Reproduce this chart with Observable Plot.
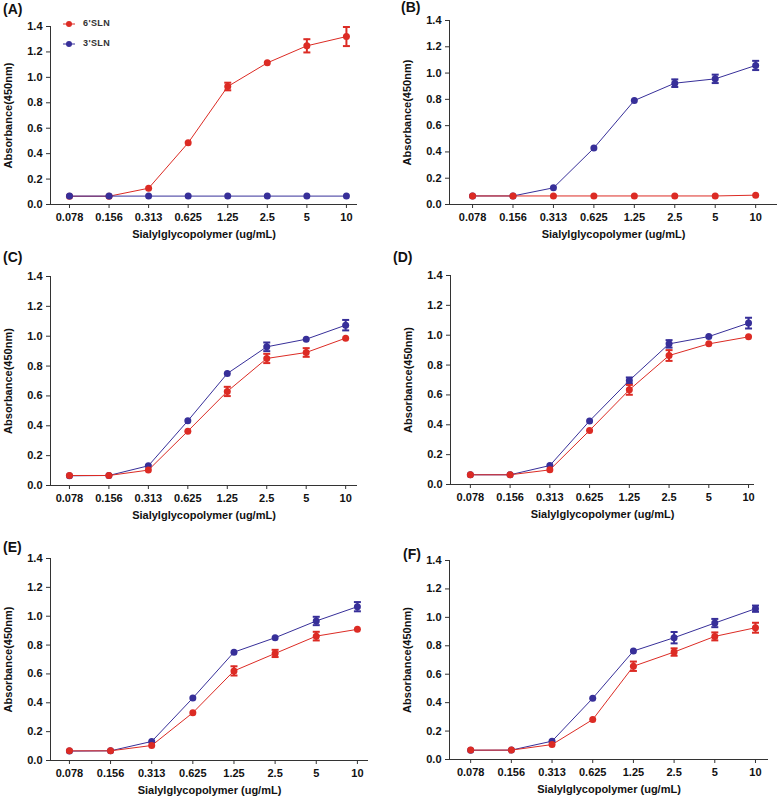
<!DOCTYPE html>
<html><head><meta charset="utf-8">
<script src="https://cdn.jsdelivr.net/npm/d3@7"></script>
<script src="https://cdn.jsdelivr.net/npm/@observablehq/plot@0.6"></script>
<style>
body{margin:0;background:#fff;}
#fig{position:relative;width:778px;height:797px;overflow:hidden;font-family:'Liberation Sans',Arial,sans-serif;}
.panel{position:absolute;}
.plab{position:absolute;font:bold 14px 'Liberation Sans',Arial,sans-serif;color:#111;line-height:1;}
.leg{position:absolute;font:bold 9px 'Liberation Sans',Arial,sans-serif;color:#333;letter-spacing:0.4px;}
</style></head><body><div id="fig"></div>
<script>
// ---- data ----
const concLabels = ["0.078","0.156","0.313","0.625","1.25","2.5","5","10"];
const seriesNames = ["6'SLN","3'SLN"];
const yTicks = [0,0.2,0.4,0.6,0.8,1.0,1.2,1.4];
const xTitle = "Sialylglycopolymer (ug/mL)";
const yTitle = "Absorbance(450nm)";
const panelLabels = ["(A)","(B)","(C)","(D)","(E)","(F)"];

const a6 = [0.065,0.065,0.128,0.485,0.928,1.114,1.248,1.321];
const a6err = [0,0,0,0,0.030,0,0.052,0.075];
const a3 = [0.066,0.066,0.066,0.066,0.066,0.066,0.066,0.066];
const a3err = [0,0,0,0,0,0,0,0];

const b6 = [0.065,0.065,0.065,0.065,0.065,0.065,0.065,0.071];
const b6err = [0,0,0,0,0,0,0,0];
const b3 = [0.065,0.065,0.127,0.429,0.791,0.923,0.956,1.058];
const b3err = [0,0,0,0,0,0.029,0.032,0.035];

const c6 = [0.067,0.067,0.103,0.364,0.630,0.851,0.891,0.987];
const c6err = [0,0,0,0,0.031,0.031,0.029,0];
const c3 = [0.065,0.067,0.132,0.433,0.750,0.929,0.980,1.074];
const c3err = [0,0,0,0,0,0.029,0,0.035];

const d6 = [0.065,0.065,0.098,0.362,0.634,0.864,0.942,0.989];
const d6err = [0,0,0,0,0.033,0.036,0,0];
const d3v = [0.065,0.065,0.127,0.426,0.697,0.942,0.991,1.081];
const d3err = [0,0,0,0,0.020,0.025,0,0.036];

const e6 = [0.067,0.067,0.104,0.331,0.621,0.742,0.862,0.909];
const e6err = [0,0,0,0,0.032,0.025,0.030,0];
const e3 = [0.065,0.067,0.132,0.433,0.751,0.851,0.967,1.066];
const e3err = [0,0,0,0,0,0,0.029,0.032];

const f6 = [0.066,0.066,0.105,0.281,0.656,0.756,0.866,0.927];
const f6err = [0,0,0,0,0.033,0.026,0.028,0.035];
const f3 = [0.065,0.066,0.129,0.431,0.763,0.857,0.960,1.061];
const f3err = [0,0,0,0,0,0.040,0.029,0.022];

// ---- styles / layout ----
const colors = {"6'SLN":"#dc2b24","3'SLN":"#372f99"};
const layout = [
  {v6:a6,e6:a6err,v3:a3,e3:a3err,left:0,  top:0,  w:390,h:250,ml:50,mt:26,mb:46,mr:33,xd:[-0.48,7.28],order:["6'SLN","3'SLN"],lab:[3,2]},
  {v6:b6,e6:b6err,v3:b3,e3:b3err,left:390,top:0,  w:388,h:250,ml:59,mt:20,mb:46,mr:1, xd:[-0.57,7.54],order:["3'SLN","6'SLN"],lab:[401,0]},
  {v6:c6,e6:c6err,v3:c3,e3:c3err,left:0,  top:250,w:390,h:280,ml:50,mt:26,mb:45,mr:33,xd:[-0.48,7.30],order:["3'SLN","6'SLN"],lab:[3,250]},
  {v6:d6,e6:d6err,v3:d3v,e3:d3err,left:390,top:250,w:388,h:280,ml:60,mt:25,mb:46,mr:24,xd:[-0.50,7.15],order:["3'SLN","6'SLN"],lab:[393,250]},
  {v6:e6,e6:e6err,v3:e3,e3:e3err,left:0,  top:530,w:390,h:267,ml:50,mt:28,mb:37,mr:22,xd:[-0.46,7.27],order:["3'SLN","6'SLN"],lab:[3,540]},
  {v6:f6,e6:f6err,v3:f3,e3:f3err,left:390,top:530,w:388,h:267,ml:59,mt:30,mb:38,mr:10,xd:[-0.52,7.32],order:["3'SLN","6'SLN"],lab:[403,547]}
];

const capSymbol = {draw(ctx, size){ const w = Math.sqrt(size/Math.PI); ctx.moveTo(-w,0); ctx.lineTo(w,0); }};
const fig = document.getElementById("fig");
const xTickIdx = concLabels.map((_, i) => i);
const FS = 11;

layout.forEach((p, k) => {
  const data = {
    "6'SLN": p.v6.map((v,i)=>({i, v, err:p.e6[i]})),
    "3'SLN": p.v3.map((v,i)=>({i, v, err:p.e3[i]}))
  };
  const marks = [
    Plot.ruleY([0], {stroke:"#333", strokeWidth:1}),
    Plot.ruleX([p.xd[0]], {y1:0, y2:1.4, stroke:"#333", strokeWidth:1}),
    Plot.axisX({ticks: xTickIdx, tickFormat: i => concLabels[i], tickSize:4, tickPadding:5, label:null, stroke:"#333", fill:"#111", fontSize:FS, fontWeight:"bold"}),
    Plot.axisY({ticks: yTicks, tickFormat: d => d.toFixed(1), tickSize:4, tickPadding:4, label:null, stroke:"#333", fill:"#111", fontSize:FS, fontWeight:"bold"}),
    Plot.text([xTitle], {frameAnchor:"bottom", textAnchor:"middle", dy:30, lineAnchor:"middle", fill:"#111", fontSize:FS, fontWeight:"bold"}),
    Plot.text([yTitle], {frameAnchor:"left", textAnchor:"middle", rotate:-90, dx:-42, lineAnchor:"middle", fill:"#111", fontSize:FS, fontWeight:"bold"})
  ];
  p.order.forEach(s => {
    const rows = data[s];
    const eb = rows.filter(d => d.err > 0);
    const c = colors[s];
    marks.push(
      Plot.line(rows, {x:"i", y:"v", stroke:c, strokeWidth:1}),
      Plot.ruleX(eb, {x:"i", y1:d=>d.v-d.err, y2:d=>d.v+d.err, stroke:c, strokeWidth:2}),
      Plot.dot(eb, {x:"i", y:d=>d.v+d.err, symbol:capSymbol, r:3.5, stroke:c, strokeWidth:2, fill:"none"}),
      Plot.dot(eb, {x:"i", y:d=>d.v-d.err, symbol:capSymbol, r:3.5, stroke:c, strokeWidth:2, fill:"none"}),
      Plot.dot(rows, {x:"i", y:"v", r:3.5, fill:c, stroke:"none"})
    );
  });
  const chart = Plot.plot({
    width:p.w, height:p.h,
    marginLeft:p.ml, marginTop:p.mt, marginBottom:p.mb, marginRight:p.mr,
    x:{type:"linear", domain:p.xd, axis:null},
    y:{type:"linear", domain:[0,1.4], axis:null},
    style:{fontFamily:"'Liberation Sans', Arial, sans-serif", fontSize:"11px", fontWeight:"bold", background:"transparent", overflow:"visible"},
    marks
  });
  const div = document.createElement("div");
  div.className = "panel";
  div.style.left = p.left + "px";
  div.style.top = p.top + "px";
  div.appendChild(chart);
  fig.appendChild(div);

  const lab = document.createElement("div");
  lab.className = "plab";
  lab.style.left = p.lab[0] + "px";
  lab.style.top = p.lab[1] + "px";
  lab.textContent = panelLabels[k];
  fig.appendChild(lab);
});

// legend (panel A)
seriesNames.forEach((s, j) => {
  const y = 24 + j*20;
  const sw = document.createElementNS("http://www.w3.org/2000/svg","svg");
  sw.setAttribute("width","16"); sw.setAttribute("height","10");
  sw.style.position = "absolute"; sw.style.left = "61px"; sw.style.top = (y-5) + "px";
  sw.innerHTML = `<line x1="2" y1="5" x2="14" y2="5" stroke="${colors[s]}" stroke-width="1"/><circle cx="8" cy="5" r="3" fill="${colors[s]}"/>`;
  fig.appendChild(sw);
  const t = document.createElement("div");
  t.className = "leg";
  t.style.left = "83px"; t.style.top = (y-6) + "px";
  t.textContent = s;
  fig.appendChild(t);
});
</script></body></html>
